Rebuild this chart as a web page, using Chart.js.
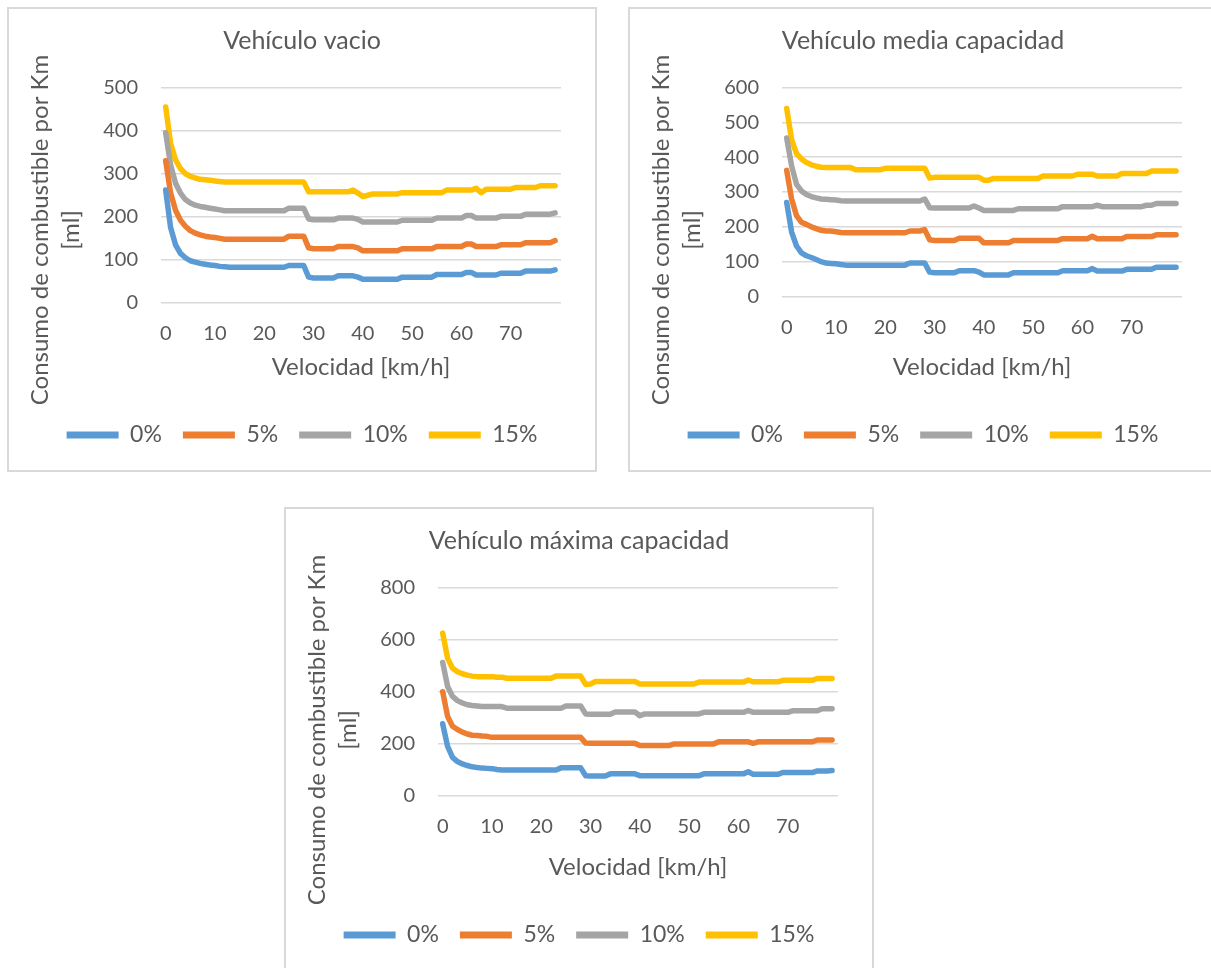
<!DOCTYPE html>
<html lang="es">
<head>
<meta charset="UTF-8">
<title>Consumo de combustible por Km</title>
<script src="https://cdn.jsdelivr.net/npm/chart.js"></script>
<style>
  html, body { margin: 0; padding: 0; background: #fff; overflow: hidden; }
  body { width: 1211px; height: 968px; position: relative; }
  .chart-box {
    position: absolute;
    width: 590px;
    height: 465px;
    box-sizing: border-box;
    border: 2px solid #d9d9d9;
    background: #fff;
  }
  .chart-box canvas { display: block; }
</style>
</head>
<body>

<div class="chart-box" style="left:7px; top:7px;"><canvas id="chartVacio"></canvas></div>
<div class="chart-box" style="left:628px; top:7px;"><canvas id="chartMedia"></canvas></div>
<div class="chart-box" style="left:284px; top:507px;"><canvas id="chartMaxima"></canvas></div>

<script>
// velocidad [km/h] (eje x)
const velocidades = [0,1,2,3,4,5,6,7,8,9,
  10,11,12,13,14,15,16,17,18,19,
  20,21,22,23,24,25,26,27,28,29,
  30,31,32,33,34,35,36,37,38,39,
  40,41,42,43,44,45,46,47,48,49,
  50,51,52,53,54,55,56,57,58,59,
  60,61,62,63,64,65,66,67,68,69,
  70,71,72,73,74,75,76,77,78,79];
const ticksVelocidad = [0, 10, 20, 30, 40, 50, 60, 70];

const pendientes = ['0%', '5%', '10%', '15%'];

// Vehiculo vacio
const vacio0 = [262,175,135,115,105,98,95,92,90,88,
  87,85,84,83,83,83,83,83,83,83,
  83,83,83,83,83,87,87,87,87,60,
  58,58,58,58,58,63,63,63,63,60,
  55,55,55,55,55,55,55,55,60,60,
  60,60,60,60,60,66,66,66,66,66,
  66,71,71,65,65,65,65,65,69,69,
  69,69,69,74,74,74,74,74,74,77];
const vacio5 = [330,255,215,192,178,168,162,158,155,153,
  152,150,148,148,148,148,148,148,148,148,
  148,148,148,148,148,155,155,155,155,128,
  126,126,126,126,126,131,131,131,131,128,
  121,121,121,121,121,121,121,121,126,126,
  126,126,126,126,126,131,131,131,131,131,
  131,137,137,131,131,131,131,131,135,135,
  135,135,135,140,140,140,140,140,140,145];
const vacio10 = [395,320,278,255,240,232,227,224,222,220,
  218,216,214,214,214,214,214,214,214,214,
  214,214,214,214,214,220,220,220,220,195,
  193,193,193,193,193,197,197,197,197,194,
  188,188,188,188,188,188,188,188,192,192,
  192,192,192,192,192,197,197,197,197,197,
  197,203,203,197,197,197,197,197,201,201,
  201,201,201,206,206,206,206,206,206,209];
const vacio15 = [455,370,332,312,300,294,290,287,286,285,
  283,282,281,281,281,281,281,281,281,281,
  281,281,281,281,281,281,281,281,281,258,
  258,258,258,258,258,258,258,258,262,255,
  247,250,253,253,253,253,253,253,256,256,
  256,256,256,256,256,256,256,262,262,262,
  262,262,262,266,256,264,264,264,264,264,
  264,268,268,268,268,268,272,272,272,272];

// Vehiculo media capacidad
const media0 = [270,185,145,125,117,112,106,100,96,95,
  94,92,90,90,90,90,90,90,90,90,
  90,90,90,90,90,96,96,96,96,70,
  68,68,68,68,68,74,74,74,74,70,
  62,62,62,62,62,62,68,68,68,68,
  68,68,68,68,68,68,74,74,74,74,
  74,74,80,73,73,73,73,73,73,78,
  78,78,78,78,78,84,84,84,84,84];
const media5 = [362,280,232,213,207,200,195,190,188,188,
  186,184,183,183,183,183,183,183,183,183,
  183,183,183,183,183,188,188,188,192,163,
  161,161,161,161,161,167,167,167,167,167,
  154,154,154,154,154,154,161,161,161,161,
  161,161,161,161,161,161,166,166,166,166,
  166,166,173,166,166,166,166,166,166,172,
  172,172,172,172,172,177,177,177,177,177];
const media10 = [455,375,322,303,293,287,283,280,279,278,
  277,275,274,274,274,274,274,274,274,274,
  274,274,274,274,274,274,274,274,280,255,
  254,254,254,254,254,254,254,254,260,254,
  247,247,247,247,247,247,247,252,252,252,
  252,252,252,252,252,252,258,258,258,258,
  258,258,258,262,258,258,258,258,258,258,
  258,258,258,262,262,267,267,267,267,267];
const media15 = [540,450,410,395,385,378,374,371,370,370,
  370,370,370,370,364,364,364,364,364,364,
  368,368,368,368,368,368,368,368,368,340,
  342,342,342,342,342,342,342,342,342,342,
  334,334,339,339,339,339,339,339,339,339,
  339,339,346,346,346,346,346,346,346,351,
  351,351,351,346,346,346,346,346,353,353,
  353,353,353,353,360,360,360,360,360,360];

// Vehiculo maxima capacidad
const maxima0 = [277,190,148,132,123,117,112,109,107,106,
  105,102,100,100,100,100,100,100,100,100,
  100,100,100,100,108,108,108,108,108,78,
  77,77,77,77,85,85,85,85,85,85,
  78,78,78,78,78,78,78,78,78,78,
  78,78,78,85,85,85,85,85,85,85,
  85,85,93,83,83,83,83,83,83,90,
  90,90,90,90,90,90,96,96,96,98];
const maxima5 = [400,305,268,255,245,238,233,232,230,229,
  225,225,225,225,225,225,225,225,225,225,
  225,225,225,225,225,225,225,225,225,203,
  202,202,202,202,202,202,202,202,202,202,
  194,194,194,194,194,194,194,200,200,200,
  200,200,200,200,200,200,208,208,208,208,
  208,208,208,202,208,208,208,208,208,208,
  208,208,208,208,208,208,215,215,215,215];
const maxima10 = [512,420,382,366,357,350,347,345,343,343,
  343,343,343,337,337,337,337,337,337,337,
  337,337,337,337,337,345,345,345,345,315,
  314,314,314,314,314,322,322,322,322,322,
  308,315,315,315,315,315,315,315,315,315,
  315,315,315,321,321,321,321,321,321,321,
  321,321,328,321,321,321,321,321,321,321,
  321,327,327,327,327,327,327,335,335,335];
const maxima15 = [625,528,490,477,469,464,460,458,458,458,
  458,456,456,452,452,452,452,452,452,452,
  452,452,452,460,460,460,460,460,460,428,
  430,439,439,439,439,439,439,439,439,439,
  430,430,430,430,430,430,430,430,430,430,
  430,430,437,437,437,437,437,437,437,437,
  437,437,445,438,438,438,438,438,438,444,
  444,444,444,444,444,444,451,451,451,451];

const colores = ['#5b9bd5', '#ed7d31', '#a5a5a5', '#ffc000'];
const tituloEjeY = ['Consumo de combustible por Km', '[ml]'];
const tituloEjeX = 'Velocidad [km/h]';

Chart.defaults.font.family = 'Lato, "Open Sans", sans-serif';
Chart.defaults.color = '#595959';

// draws the two-line rotated y axis title
const yTitlePlugin = {
  id: 'yTitle',
  afterDraw(chart) {
    const ctx = chart.ctx;
    const xs = [31, 62];
    const yc = 221;
    ctx.save();
    ctx.fillStyle = '#595959';
    ctx.font = '24px Lato, "Open Sans", sans-serif';
    ctx.textAlign = 'center';
    ctx.textBaseline = 'middle';
    tituloEjeY.forEach((line, i) => {
      ctx.save();
      ctx.translate(xs[i], yc);
      ctx.rotate(-Math.PI / 2);
      ctx.fillText(line, 0, 0);
      ctx.restore();
    });
    ctx.restore();
  }
};

function makeChart(id, titulo, series, yMax, yStep, plotBottom) {
  const legendTop = 392.5;
  const ctx = document.getElementById(id).getContext('2d');
  return new Chart(ctx, {
    type: 'line',
    data: {
      labels: velocidades,
      datasets: series.map((s, i) => ({
        label: pendientes[i],
        data: s,
        borderColor: colores[i],
        backgroundColor: colores[i],
        borderWidth: 5.5,
        pointRadius: 0,
        pointHoverRadius: 0,
        tension: 0,
        fill: false,
        borderJoinStyle: 'round',
        borderCapStyle: 'round'
      }))
    },
    options: {
      responsive: true,
      maintainAspectRatio: false,
      animation: false,
      layout: { padding: { top: 0, bottom: 13.5, left: 0, right: 0 } },
      plugins: {
        title: {
          display: true,
          text: titulo,
          color: '#595959',
          font: { size: 25, weight: 'normal' },
          padding: { top: 16.5, bottom: 32 }
        },
        legend: {
          position: 'bottom',
          labels: {
            color: '#595959',
            font: { size: 23 },
            boxWidth: 52,
            boxHeight: 7,
            padding: 21,
            generateLabels: chart =>
              Chart.defaults.plugins.legend.labels.generateLabels(chart)
                .map(l => Object.assign(l, { lineWidth: 0 }))
          }
        },
        tooltip: { enabled: false }
      },
      scales: {
        x: {
          type: 'linear',
          min: -0.95,
          max: 80.2,
          grid: { display: false, drawTicks: false },
          border: { display: false },
          afterBuildTicks: s => { s.ticks = ticksVelocidad.map(v => ({ value: v })); },
          ticks: {
            autoSkip: false,
            maxRotation: 0,
            padding: 19,
            font: { size: 20 },
            callback: v => String(v)
          },
          title: {
            display: true,
            text: tituloEjeX,
            font: { size: 24 },
            padding: { top: 0, bottom: 21 }
          },
          afterFit: s => { s.height = legendTop - plotBottom; }
        },
        y: {
          min: 0,
          max: yMax,
          grid: { color: '#d9d9d9', lineWidth: 1.5, drawTicks: false },
          border: { display: false },
          ticks: { stepSize: yStep, padding: 23, font: { size: 20 } },
          afterFit: s => { s.width = 152; }
        },
        yRight: {
          position: 'right',
          display: true,
          grid: { display: false, drawTicks: false },
          border: { display: false },
          ticks: { display: false },
          afterFit: s => { s.width = 34; }
        }
      }
    },
    plugins: [yTitlePlugin]
  });
}

makeChart('chartVacio', 'Vehículo vacio', [vacio0, vacio5, vacio10, vacio15], 500, 100, 293);
makeChart('chartMedia', 'Vehículo media capacidad', [media0, media5, media10, media15], 600, 100, 286.5);
makeChart('chartMaxima', 'Vehículo máxima capacidad', [maxima0, maxima5, maxima10, maxima15], 800, 200, 286);
</script>
</body>
</html>
